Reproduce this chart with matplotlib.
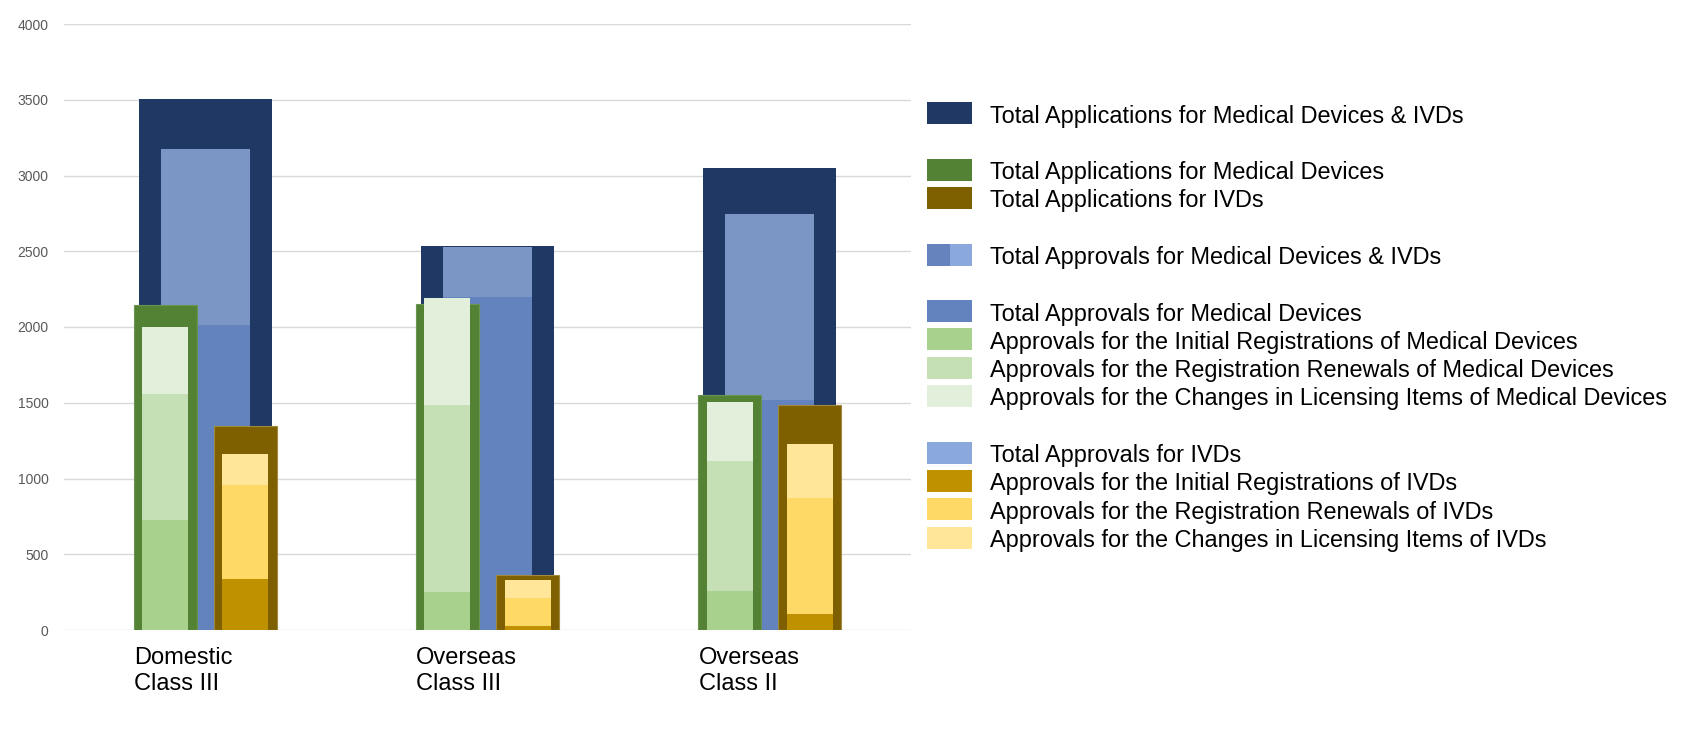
import numpy as np
import matplotlib.pyplot as plt
from matplotlib.patches import Rectangle

# values
categories = ['Domestic\nClass III', 'Overseas\nClass III', 'Overseas\nClass II']
total_apps = [3505, 2535, 3050]
md_apps = [2145, 2150, 1549]
ivd_apps = [1346, 360, 1483]
md_approvals = [2010, 2198, 1516]
ivd_approvals = [1164, 332, 1228]
md_initial = [726, 253, 257]
md_renewal = [834, 1234, 858]
md_change = [438, 707, 392]
ivd_initial = [337, 28, 108]
ivd_renewal = [622, 180, 765]
ivd_change = [205, 122, 353]

legend_labels = [
    'Total Applications for Medical Devices & IVDs',
    'Total Applications for Medical Devices',
    'Total Applications for IVDs',
    'Total Approvals for Medical Devices & IVDs',
    'Total Approvals for Medical Devices',
    'Approvals for the Initial Registrations of Medical Devices',
    'Approvals for the Registration Renewals of Medical Devices',
    'Approvals for the Changes in Licensing Items of Medical Devices',
    'Total Approvals for IVDs',
    'Approvals for the Initial Registrations of IVDs',
    'Approvals for the Registration Renewals of IVDs',
    'Approvals for the Changes in Licensing Items of IVDs',
]
legend_rows = [0, 2, 3, 5, 7, 8, 9, 10, 12, 13, 14, 15]

c_navy = '#203864'
c_green = '#548235'
c_brown = '#7F6000'
c_md_appr = '#6383BE'
c_ivd_appr = '#7B96C4'
c_ivd_appr_leg = '#8AA8DC'
c_md_init, c_md_ren, c_md_chg = '#A9D18E', '#C5E0B4', '#E2EFDA'
c_ivd_init, c_ivd_ren, c_ivd_chg = '#BF9000', '#FFD966', '#FFE699'

plt.rcParams['font.family'] = ['Liberation Sans', 'DejaVu Sans']

fig = plt.figure(figsize=(16.84, 7.36), dpi=100)
ax = fig.add_axes([64 / 1684, 1 - 630 / 736, 847 / 1684, 606 / 736])

x = np.arange(len(categories))

# outer totals
ax.bar(x, total_apps, width=0.471, color=c_navy, zorder=2)
ax.bar(x, md_approvals, width=0.315, color=c_md_appr, zorder=3)
ax.bar(x, ivd_approvals, width=0.315, bottom=md_approvals, color=c_ivd_appr, zorder=3)
ax.bar(x - 0.142, md_apps, width=0.223, color=c_green, edgecolor='#6A9450', linewidth=0.8, zorder=4)
ax.bar(x + 0.142, ivd_apps, width=0.223, color=c_brown, edgecolor='#A08A40', linewidth=0.8, zorder=4)

# inner stacks
md_b2 = np.array(md_initial) + np.array(md_renewal)
ax.bar(x - 0.142, md_initial, width=0.163, color=c_md_init, zorder=5)
ax.bar(x - 0.142, md_renewal, width=0.163, bottom=md_initial, color=c_md_ren, zorder=5)
ax.bar(x - 0.142, md_change, width=0.163, bottom=md_b2, color=c_md_chg, zorder=5)

ivd_b2 = np.array(ivd_initial) + np.array(ivd_renewal)
ax.bar(x + 0.142, ivd_initial, width=0.163, color=c_ivd_init, zorder=5)
ax.bar(x + 0.142, ivd_renewal, width=0.163, bottom=ivd_initial, color=c_ivd_ren, zorder=5)
ax.bar(x + 0.142, ivd_change, width=0.163, bottom=ivd_b2, color=c_ivd_chg, zorder=5)

ax.set_xlim(-0.5, len(categories) - 0.5)
ax.set_ylim(0, 4000)
ax.set_yticks(np.arange(0, 4001, 500))
ax.yaxis.grid(True, color='#D9D9D9', linewidth=1)
ax.set_axisbelow(True)
for s in ax.spines.values():
    s.set_visible(False)
ax.tick_params(axis='y', length=0, pad=11, labelsize=10, labelcolor='#595959')

ax.set_xticks(x - 0.252)
ax.set_xticklabels(categories, ha='left', fontsize=17, linespacing=1.27)
ax.tick_params(axis='x', length=0, pad=12)

# legend drawn in pixel coordinates
lax = fig.add_axes([0, 0, 1, 1])
lax.set_xlim(0, 1684)
lax.set_ylim(736, 0)
lax.axis('off')
colors = [c_navy, c_green, c_brown, None, c_md_appr, c_md_init, c_md_ren, c_md_chg,
          c_ivd_appr_leg, c_ivd_init, c_ivd_ren, c_ivd_chg]
for lab, row, col in zip(legend_labels, legend_rows, colors):
    yb = 124 + row * 28.3
    if col is None:
        lax.add_patch(Rectangle((927, yb - 22), 22.5, 22, color='#6683BE', lw=0))
        lax.add_patch(Rectangle((949.5, yb - 22), 22.5, 22, color=c_ivd_appr_leg, lw=0))
    else:
        lax.add_patch(Rectangle((927, yb - 22), 45, 22, color=col, lw=0))
    lax.text(990, yb - 1.5, lab, fontsize=16.9, va='baseline', ha='left', color='black')

fig.savefig('out.png', dpi=100)
